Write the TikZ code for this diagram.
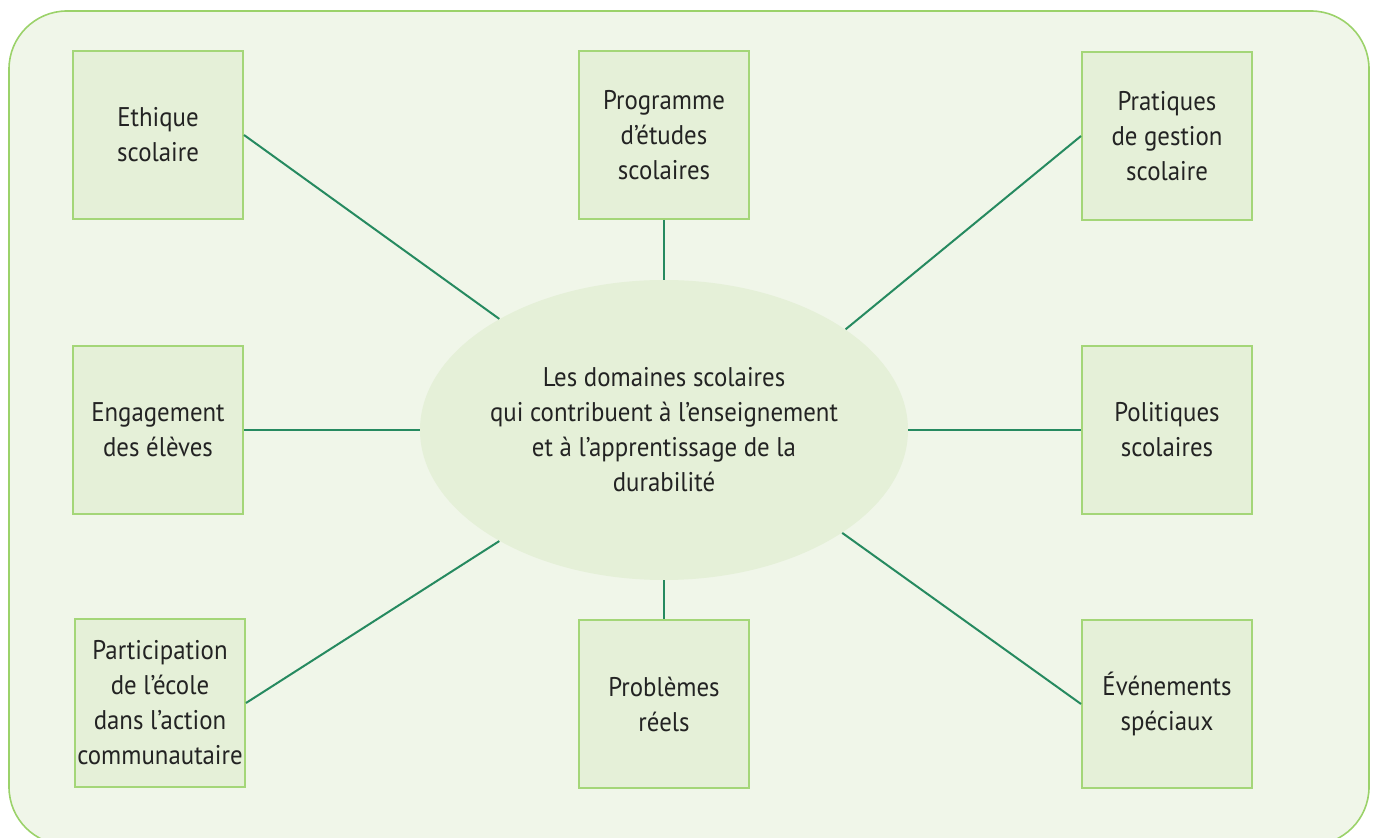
\documentclass[tikz,border=0pt]{standalone}
\usepackage{fontspec}
\setmainfont[FakeStretch=0.92]{PT Sans}
\usetikzlibrary{shapes.geometric}
\definecolor{bgc}{RGB}{240,246,233}
\definecolor{framec}{RGB}{155,210,106}
\definecolor{boxfill}{RGB}{229,240,216}
\definecolor{boxline}{RGB}{164,214,120}
\definecolor{linec}{RGB}{38,138,96}
\definecolor{textc}{RGB}{35,35,35}
\begin{document}
\begin{tikzpicture}[x=0.5pt,y=-0.5pt,
  txt/.style={align=center, text=textc, font=\fontsize{13.5}{17.5}\selectfont, inner sep=0pt},
  boxnode/.style={txt, draw=boxline, fill=boxfill, line width=1pt, minimum width=85pt, minimum height=84pt},
  conn/.style={draw=linec, line width=1pt}]
\useasboundingbox (0,0) rectangle (1376,838);
\clip (0,0) rectangle (1376,838);
\draw[draw=framec, fill=bgc, line width=0.8pt, rounded corners=29pt] (9,11) rectangle (1369,845);

\node[ellipse, fill=boxfill, minimum width=244pt, minimum height=150pt, inner sep=0pt] (c) at (664,430) {};
\node[txt] (ct) at (c.center) {Les domaines scolaires\\qui contribuent à l’enseignement\\et à l’apprentissage de la\\durabilité};

\node[boxnode] (eth) at (158,135) {Ethique\\scolaire};
\node[boxnode] (prog) at (664,135) {Programme\\d’études\\scolaires};
\node[boxnode] (prat) at (1167,136) {Pratiques\\de gestion\\scolaire};
\node[boxnode] (eng) at (158,430) {Engagement\\des élèves};
\node[boxnode] (pol) at (1167,430) {Politiques\\scolaires};
\node[boxnode] (part) at (160,703) {Participation\\de l’école\\dans l’action\\communautaire};
\node[boxnode] (prob) at (664,704) {Problèmes\\réels};
\node[boxnode] (even) at (1167,704) {Événements\\spéciaux};

\draw[conn] (eth.east) -- (c.146);
\draw[conn] (prog.south) -- (c.north);
\draw[conn] (prat.west) -- (c.29);
\draw[conn] (eng.east) -- (c.west);
\draw[conn] (pol.west) -- (c.east);
\draw[conn] (part.east) -- (c.214);
\draw[conn] (prob.north) -- (c.south);
\draw[conn] (even.west) -- (c.-30);
\end{tikzpicture}
\end{document}
